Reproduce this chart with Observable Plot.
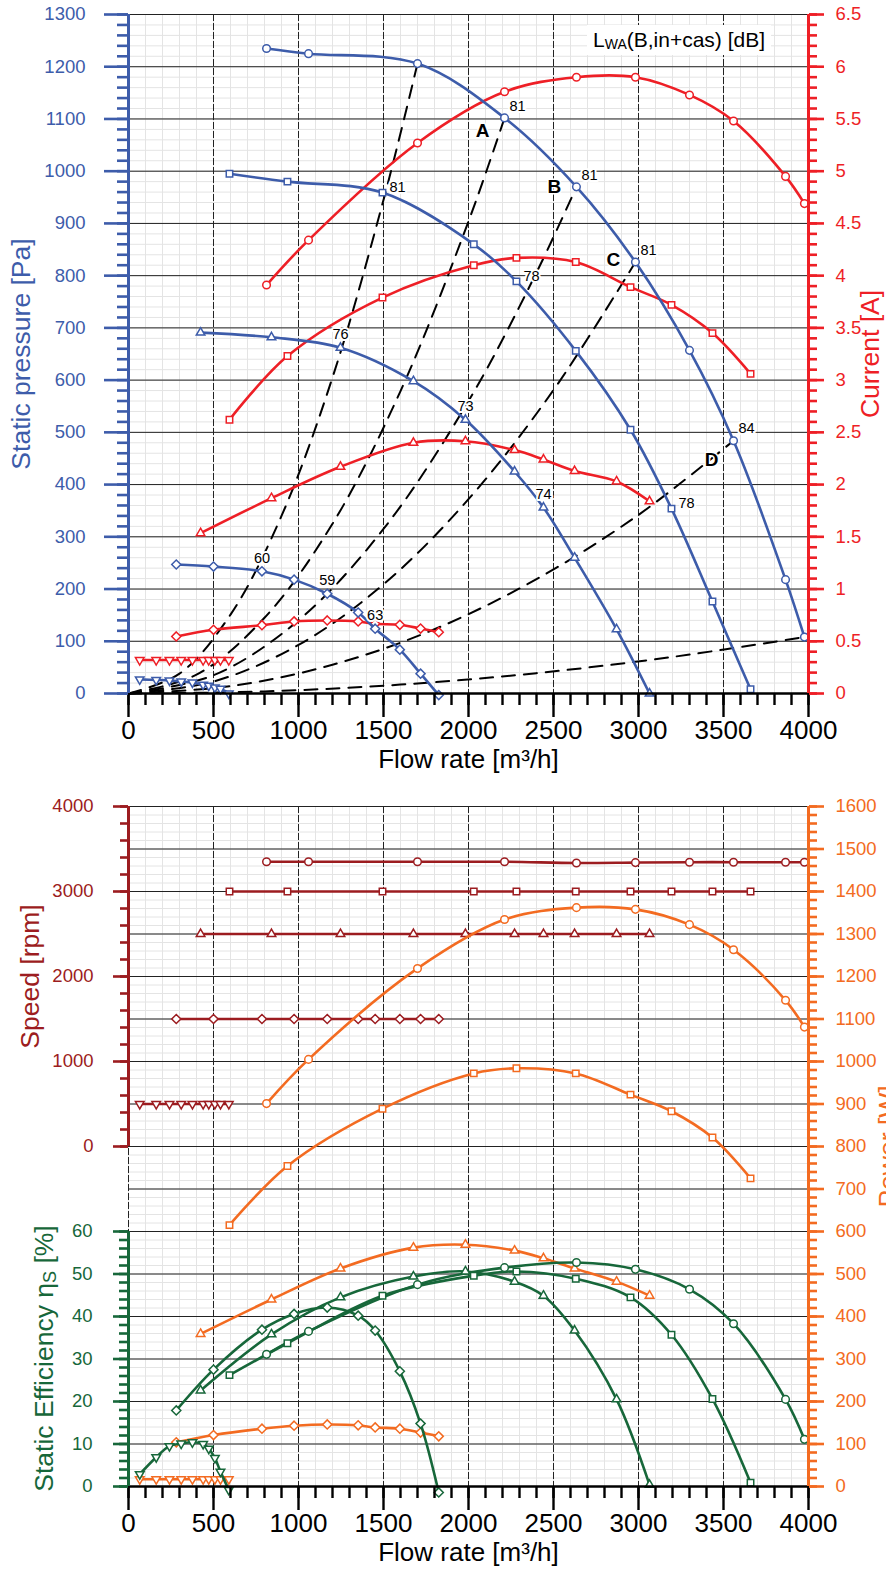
<!DOCTYPE html>
<html>
<head>
<meta charset="utf-8">
<script src="https://cdn.jsdelivr.net/npm/d3@7"></script>
<script src="https://cdn.jsdelivr.net/npm/@observablehq/plot@0.6"></script>
<style>
  body { margin: 0; background: #fff; }
  #chart svg { display: block; }
</style>
</head>
<body>
<div id="chart"></div>
<script>
// Fan curves at five speeds; each speed uses its own marker symbol.
const seriesKeys = ["circle", "square", "triangle", "diamond", "invTriangle"];

// Flow rate [m³/h] of every operating point
const flowCircle      = [812, 1059, 1700, 2212, 2635, 2982, 3300, 3559, 3865, 3976];
const flowSquare      = [594, 935, 1494, 2031, 2282, 2631, 2953, 3194, 3435, 3659];
const flowTriangle    = [424, 841, 1247, 1676, 1982, 2271, 2441, 2624, 2871, 3065];
const flowDiamond     = [281, 500, 785, 974, 1169, 1351, 1451, 1596, 1718, 1825];
const flowInvTriangle = [66, 163, 241, 310, 376, 439, 472, 508, 541, 590];

// Static pressure [Pa]
const pressureCircle      = [1235, 1225, 1206, 1102, 970, 826, 657, 484, 218, 108];
const pressureSquare      = [995, 980, 959, 860, 789, 656, 505, 354, 176, 8];
const pressureTriangle    = [691, 682, 662, 598, 524, 425, 356, 260, 123, 0];
const pressureDiamond     = [247, 243, 234, 218, 191, 155, 124, 84, 38, -3];
const pressureInvTriangle = [27, 26, 25, 23, 21, 17, 15, 11.5, 9, 0];

// Current [A]
const currentCircle      = [3.91, 4.34, 5.27, 5.76, 5.90, 5.90, 5.73, 5.48, 4.95, 4.69];
const currentSquare      = [2.62, 3.23, 3.79, 4.10, 4.17, 4.13, 3.89, 3.72, 3.45, 3.06];
const currentTriangle    = [1.535, 1.87, 2.17, 2.40, 2.415, 2.33, 2.24, 2.13, 2.03, 1.84];
const currentDiamond     = [0.546, 0.61, 0.654, 0.69, 0.699, 0.69, 0.667, 0.658, 0.622, 0.587];
const currentInvTriangle = [0.32, 0.32, 0.32, 0.32, 0.32, 0.32, 0.32, 0.32, 0.32, 0.32];

// Speed [rpm]
const speedCircle      = [3350, 3350, 3350, 3350, 3335, 3340, 3345, 3345, 3345, 3345];
const speedSquare      = [3000, 3000, 3000, 3000, 3000, 3000, 3000, 3000, 3000, 3000];
const speedTriangle    = [2500, 2500, 2500, 2500, 2500, 2500, 2500, 2500, 2500, 2500];
const speedDiamond     = [1500, 1500, 1500, 1500, 1500, 1500, 1500, 1500, 1500, 1500];
const speedInvTriangle = [500, 500, 500, 500, 500, 500, 500, 500, 500, 500];

// Power input [W]
const powerCircle      = [901, 1005, 1219, 1334, 1362, 1358, 1322, 1263, 1144, 1081];
const powerSquare      = [615, 754, 889, 972, 984, 972, 922, 883, 821, 725];
const powerTriangle    = [359, 440, 513, 562, 569, 555, 537, 513, 482, 449];
const powerDiamond     = [104, 121, 136, 143, 146, 144, 139, 136, 127, 118];
const powerInvTriangle = [17, 17, 17, 17, 17, 17, 17, 17, 17, 17];

// Static efficiency [%]
const effCircle      = [31.1, 36.5, 47.5, 51.5, 52.7, 51.1, 46.4, 38.3, 20.5, 11.1];
const effSquare      = [26.2, 33.7, 44.9, 49.6, 50.6, 48.9, 44.5, 35.7, 20.6, 0.9];
const effTriangle    = [22.6, 35.8, 44.5, 49.4, 50.6, 48.2, 44.9, 36.7, 20.5, 0.4];
const effDiamond     = [17.9, 27.5, 36.9, 40.6, 42.1, 40.2, 36.7, 27.1, 14.8, -1.4];
const effInvTriangle = [2.9, 6.9, 9.5, 10.1, 10.4, 10.0, 8.9, 6.7, 3.5, -0.8];

// System resistance curves [flow, pressure]
const system1 = [[0, 0], [300, 38], [600, 151], [900, 340], [1200, 605], [1500, 945], [1700, 1206]];
const systemA = [[0, 0], [400, 36], [800, 145], [1200, 325], [1600, 579], [2000, 904], [2212, 1102]];
const systemB = [[0, 0], [500, 35], [1000, 140], [1500, 315], [2000, 560], [2400, 806], [2635, 970]];
const systemC = [[0, 0], [500, 23], [1000, 93], [1500, 209], [2000, 372], [2500, 581], [2982, 826]];
const systemD = [[0, 0], [600, 14], [1200, 55], [1800, 123], [2400, 219], [3000, 342], [3559, 484]];
const system6 = [[0, 0], [800, 4], [1600, 17], [2400, 39], [3200, 70], [3976, 108]];

// Sound power level L_WA [dB] at selected points: [series, point index, value]
const soundCircle   = [["circle", 3, "81"], ["circle", 4, "81"], ["circle", 5, "81"], ["circle", 7, "84"]];
const soundSquare   = [["square", 2, "81"], ["square", 4, "78"], ["square", 7, "78"]];
const soundTriangle = [["triangle", 2, "76"], ["triangle", 4, "73"], ["triangle", 6, "74"]];
const soundDiamond  = [["diamond", 2, "60"], ["diamond", 4, "59"], ["diamond", 6, "63"]];
const pointLetters  = ["A", "B", "C", "D"];
const letterPoints  = [3, 4, 5, 7];

// Axis ticks
const flowTicks = [0, 500, 1000, 1500, 2000, 2500, 3000, 3500, 4000];
const pressureTicks = d3.range(0, 1301, 100);
const currentTicks = d3.range(0, 6.51, 0.5);
const speedTicks = [0, 1000, 2000, 3000, 4000];
const powerTicks = d3.range(0, 1601, 100);
const effTicks = [0, 10, 20, 30, 40, 50, 60];

// Secondary axes share the primary scale through fixed ratios
const PA_PER_AMP = 200;          // 6.5 A ↔ 1300 Pa
const W_PER_PERCENT = 10;        // 60 % ↔ 600 W
const W_PER_RPM = 0.2, SPEED_ZERO_W = 800; // 0…4000 rpm ↔ 800…1600 W

const BLUE = "#3d5caa", RED = "#ee1f26", DARKRED = "#9c1c20", ORANGE = "#f36b21", GREEN = "#17673a";
const FONT = "'Liberation Sans', Arial, Helvetica, sans-serif";
const plain = d3.format("d");

const flows = [flowCircle, flowSquare, flowTriangle, flowDiamond, flowInvTriangle];
const pressures = [pressureCircle, pressureSquare, pressureTriangle, pressureDiamond, pressureInvTriangle];
const currents = [currentCircle, currentSquare, currentTriangle, currentDiamond, currentInvTriangle];
const speeds = [speedCircle, speedSquare, speedTriangle, speedDiamond, speedInvTriangle];
const powers = [powerCircle, powerSquare, powerTriangle, powerDiamond, powerInvTriangle];
const effs = [effCircle, effSquare, effTriangle, effDiamond, effInvTriangle];

const rows = seriesKeys.flatMap((key, s) => flows[s].map((flow, i) => ({
  key, i, flow,
  pressure: pressures[s][i],
  current: currents[s][i],
  speed: speeds[s][i],
  power: powers[s][i],
  eff: effs[s][i]
})));
const pointOf = (key, i) => rows.find(d => d.key === key && d.i === i);

const systemRows = [system1, systemA, systemB, systemC, systemD, system6]
  .flatMap((pts, line) => pts.map(([flow, pressure]) => ({line, flow, pressure})));

const SYMBOLS = {
  circle: {symbol: "circle", rotate: 0, r: 3.8},
  square: {symbol: "square2", rotate: 0, r: 4.1},
  triangle: {symbol: "triangle2", rotate: 0, r: 4.1},
  diamond: {symbol: "diamond2", rotate: 0, r: 4.1},
  invTriangle: {symbol: "triangle2", rotate: 180, r: 4.1}
};

function curves(y, color) {
  return [
    Plot.line(rows, {x: "flow", y, z: "key", stroke: color, strokeWidth: 2.6, curve: "catmull-rom"}),
    ...seriesKeys.map(key => Plot.dot(rows.filter(d => d.key === key), {
      x: "flow", y, symbol: SYMBOLS[key].symbol, rotate: SYMBOLS[key].rotate, r: SYMBOLS[key].r,
      stroke: color, strokeWidth: 1.5, fill: "white"
    }))
  ];
}

function flowAxis() {
  return [
    Plot.axisX(d3.range(0, 4001, 100), {tickSize: 12, tickFormat: () => "", strokeWidth: 2.4, label: null}),
    Plot.axisX(flowTicks, {tickSize: 24, tickPadding: 3, fontSize: 26, tickFormat: plain, strokeWidth: 2.4, label: null}),
    Plot.text(["Flow rate [m³/h]"], {frameAnchor: "bottom", dy: 66, fontSize: 26, lineAnchor: "middle", textAnchor: "middle"})
  ];
}

// ---------- Upper chart: static pressure and current ----------
const upperChart = Plot.plot({
  width: 886, height: 785,
  marginLeft: 128, marginRight: 78, marginTop: 14, marginBottom: 92,
  style: {fontFamily: FONT, background: "white"},
  x: {domain: [0, 4000]},
  y: {domain: [0, 1300]},
  marks: [
    Plot.ruleX(d3.range(0, 4001, 100), {stroke: "#e4e4e4", strokeWidth: 1}),
    Plot.ruleY(d3.range(0, 1301, 20), {stroke: "#e4e4e4", strokeWidth: 1}),
    Plot.ruleY(pressureTicks, {stroke: "#222", strokeWidth: 1}),
    Plot.ruleX(flowTicks.slice(1, -1), {stroke: "#222", strokeWidth: 1, strokeDasharray: "7,2"}),
    Plot.line(systemRows, {x: "flow", y: "pressure", z: "line", stroke: "black", strokeWidth: 2,
      strokeDasharray: "13,9", curve: "catmull-rom"}),
    ...curves(d => d.current * PA_PER_AMP, RED),
    ...curves("pressure", BLUE),
    // sound power labels
    Plot.text(soundCircle.map(([k, i, t]) => ({...pointOf(k, i), t})), {x: "flow", y: "pressure", text: "t",
      dx: 13, dy: -12, fontSize: 14.5, stroke: "white", strokeWidth: 4, fill: "black"}),
    Plot.text(soundSquare.map(([k, i, t]) => ({...pointOf(k, i), t})), {x: "flow", y: "pressure", text: "t",
      dx: 15, dy: -5, fontSize: 14.5, stroke: "white", strokeWidth: 4, fill: "black"}),
    Plot.text([...soundTriangle, ...soundDiamond].map(([k, i, t]) => ({...pointOf(k, i), t})), {x: "flow", y: "pressure", text: "t",
      dy: -13, fontSize: 14.5, stroke: "white", strokeWidth: 4, fill: "black"}),
    ...pointLetters.map((t, j) => Plot.text([{...pointOf("circle", letterPoints[j]), t}], {x: "flow", y: "pressure", text: "t",
      dx: -22, dy: [13, 0, -2, 19][j], fontSize: 19, fontWeight: "bold", stroke: "white", strokeWidth: 3, fill: "black"})),
    // axes
    ...flowAxis(),
    Plot.ruleY([0], {stroke: "black", strokeWidth: 2.6}),
    Plot.axisY(d3.range(0, 1301, 20), {anchor: "left", tickSize: 11, tickFormat: () => "", stroke: BLUE, strokeWidth: 2.6, label: null}),
    Plot.axisY(pressureTicks, {anchor: "left", tickSize: 24, tickPadding: 19, fontSize: 18.5, tickFormat: plain,
      color: BLUE, stroke: BLUE, fill: BLUE, strokeWidth: 2.6, label: null}),
    Plot.ruleX([0], {stroke: BLUE, strokeWidth: 3}),
    Plot.axisY(d3.range(0, 1301, 20), {anchor: "right", tickSize: 8, tickFormat: () => "", stroke: RED, strokeWidth: 2.6, label: null}),
    Plot.axisY(currentTicks.map(a => a * PA_PER_AMP), {anchor: "right", tickSize: 15, tickPadding: 12, fontSize: 18.5,
      tickFormat: v => String(v / PA_PER_AMP), color: RED, stroke: RED, fill: RED, strokeWidth: 2.6, label: null}),
    Plot.ruleX([4000], {stroke: RED, strokeWidth: 3}),
    Plot.text(["Static pressure [Pa]"], {frameAnchor: "left", dx: -107, rotate: -90, fontSize: 26.5, fill: BLUE,
      lineAnchor: "middle", textAnchor: "middle"}),
    Plot.text(["Current [A]"], {frameAnchor: "right", dx: 62, rotate: -90, fontSize: 26.5, fill: RED,
      lineAnchor: "middle", textAnchor: "middle"})
  ]
});

// ---------- Lower chart: speed, power and static efficiency ----------
const speedW = rpm => SPEED_ZERO_W + rpm * W_PER_RPM;
const lowerChart = Plot.plot({
  width: 886, height: 784,
  marginLeft: 128, marginRight: 78, marginTop: 21, marginBottom: 83,
  style: {fontFamily: FONT, background: "white"},
  x: {domain: [0, 4000]},
  y: {domain: [0, 1600]},
  marks: [
    Plot.ruleX(d3.range(0, 4001, 100), {stroke: "#e4e4e4", strokeWidth: 1}),
    Plot.ruleY(d3.range(0, 1601, 20), {stroke: "#e4e4e4", strokeWidth: 1}),
    Plot.ruleY(powerTicks, {stroke: "#222", strokeWidth: 1}),
    Plot.ruleX(flowTicks.slice(0, -1), {stroke: "#222", strokeWidth: 1, strokeDasharray: "7,2"}),
    ...curves(d => speedW(d.speed), DARKRED),
    ...curves("power", ORANGE),
    ...curves(d => d.eff * W_PER_PERCENT, GREEN),
    ...flowAxis(),
    Plot.ruleY([0], {stroke: "black", strokeWidth: 2.6}),
    // speed axis (upper left)
    Plot.axisY(d3.range(0, 4001, 200).map(speedW), {anchor: "left", tickSize: 8, tickFormat: () => "", stroke: DARKRED, strokeWidth: 2.6, label: null}),
    Plot.axisY(speedTicks.map(speedW), {anchor: "left", tickSize: 15, tickPadding: 20, fontSize: 18.5,
      tickFormat: w => plain((w - SPEED_ZERO_W) / W_PER_RPM), color: DARKRED, stroke: DARKRED, fill: DARKRED, strokeWidth: 2.6, label: null}),
    Plot.ruleX([0], {y1: speedW(0), y2: speedW(4000), stroke: DARKRED, strokeWidth: 3}),
    // efficiency axis (lower left)
    Plot.axisY(d3.range(0, 61, 2).map(e => e * W_PER_PERCENT), {anchor: "left", tickSize: 9, tickFormat: () => "", stroke: GREEN, strokeWidth: 2.6, label: null}),
    Plot.axisY(effTicks.map(e => e * W_PER_PERCENT), {anchor: "left", tickSize: 15, tickPadding: 21, fontSize: 18.5,
      tickFormat: w => plain(w / W_PER_PERCENT), color: GREEN, stroke: GREEN, fill: GREEN, strokeWidth: 2.6, label: null}),
    Plot.ruleX([0], {y1: 0, y2: 60 * W_PER_PERCENT, stroke: GREEN, strokeWidth: 3}),
    // power axis (right)
    Plot.axisY(d3.range(0, 1601, 20), {anchor: "right", tickSize: 8, tickFormat: () => "", stroke: ORANGE, strokeWidth: 2.6, label: null}),
    Plot.axisY(powerTicks, {anchor: "right", tickSize: 15, tickPadding: 12, fontSize: 18.5, tickFormat: plain,
      color: ORANGE, stroke: ORANGE, fill: ORANGE, strokeWidth: 2.6, label: null}),
    Plot.ruleX([4000], {stroke: ORANGE, strokeWidth: 3}),
    Plot.text(["Speed [rpm]"], {x: 0, y: speedW(2000), dx: -98, rotate: -90, fontSize: 26.5, fill: DARKRED,
      lineAnchor: "middle", textAnchor: "middle"}),
    Plot.text(["Power [W]"], {frameAnchor: "right", dx: 80, rotate: -90, fontSize: 26.5, fill: ORANGE,
      lineAnchor: "middle", textAnchor: "middle"})
  ]
});

const chart = document.getElementById("chart");
chart.append(upperChart, lowerChart);

// Labels with subscripts are written as tspans
const upperSvg = d3.select(upperChart);
const xs = upperChart.scale("x"), ys = upperChart.scale("y");
const legendG = upperSvg.append("g").attr("font-family", FONT);
const legendText = legendG.append("text")
  .attr("x", xs.apply(2700) + 6).attr("y", ys.apply(1300) + 33)
  .attr("text-anchor", "start").attr("font-size", 21).attr("fill", "black");
legendText.append("tspan").text("L");
legendText.append("tspan").attr("font-size", 14).attr("dy", 2).text("WA");
legendText.append("tspan").attr("dy", -2).text("(B,in+cas) [dB]");
const bb = legendText.node().getBBox();
legendG.insert("rect", "text").attr("x", bb.x - 6).attr("y", bb.y - 3).attr("width", bb.width + 12)
  .attr("height", bb.height + 6).attr("fill", "white");

const lowerSvg = d3.select(lowerChart);
const yb = lowerChart.scale("y"), xb = lowerChart.scale("x");
const effLabel = lowerSvg.append("text")
  .attr("transform", `translate(${xb.apply(0) - 84},${yb.apply(30 * W_PER_PERCENT)}) rotate(-90)`)
  .attr("text-anchor", "middle").attr("dominant-baseline", "central")
  .attr("font-family", FONT).attr("font-size", 26.5).attr("fill", GREEN);
effLabel.append("tspan").text("Static Efficiency η");
effLabel.append("tspan").attr("font-size", 18).attr("dy", 6).text("S");
effLabel.append("tspan").attr("dy", -6).text(" [%]");
</script>
</body>
</html>
